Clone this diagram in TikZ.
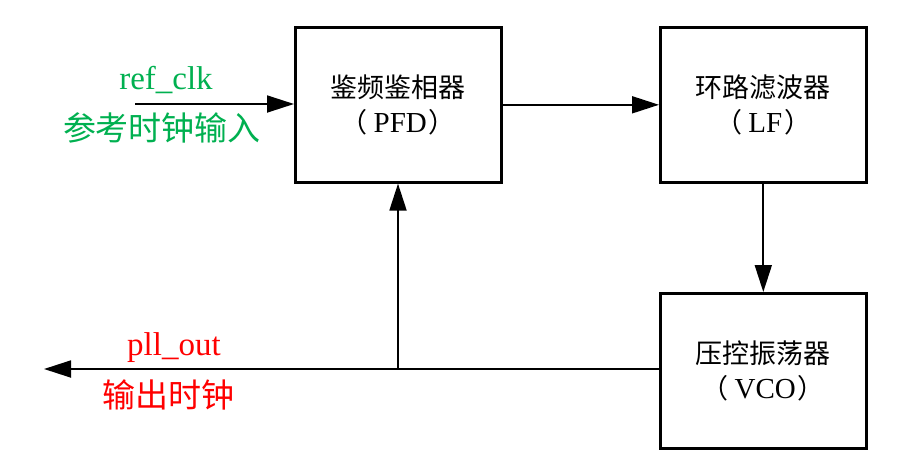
\documentclass[tikz,border=0pt]{standalone}
\usepackage{fontspec}
\setmainfont{Liberation Serif}
\newfontfamily\cjk{Noto Sans CJK SC}
\usetikzlibrary{arrows.meta}
\definecolor{lblgreen}{HTML}{00B050}
\definecolor{lblred}{HTML}{FF0000}
\newcommand{\fwparen}[1]{{\cjk （}\hspace{6pt}{\fontsize{29}{35}\selectfont #1}\hspace{2pt}{\cjk ）}}
\begin{document}
\begin{tikzpicture}[x=1pt,y=-1pt,
  blockbox/.style={draw=black,line width=2.6pt,minimum width=206pt,minimum height=155pt,anchor=north west,inner sep=0pt,align=center,font=\fontsize{27}{35}\selectfont},
  conn/.style={line width=1.8pt,-{Triangle[length=27pt,width=17pt]}},
  plain/.style={line width=1.8pt},
  lbl/.style={font=\fontsize{33}{38}\selectfont,inner sep=0pt}]
\useasboundingbox (0,0) rectangle (903,466);
\node[blockbox] (pfd) at (294,26) {{\cjk 鉴频鉴相器}\\\fwparen{PFD}};
\node[blockbox] (lf) at (659,26) {{\cjk 环路滤波器}\\\fwparen{LF}};
\node[blockbox] (vco) at (659,292) {{\cjk 压控振荡器}\\\fwparen{VCO}};
\coordinate (in) at (135,104);
\coordinate (out) at (44,369);
\coordinate (junc) at (398,369);
\draw[conn] (in) -- (in -| pfd.west);
\draw[conn] (pfd.east) -- (lf.west);
\draw[conn] (lf.south) -- (vco.north);
\draw[plain] (vco.west |- junc) -- (junc);
\draw[conn] (junc) -- (junc |- pfd.south);
\draw[conn] (junc) -- (out);
\node[lbl,text=lblgreen] (refclk) at (166,80) {ref\_clk};
\node[lbl,text=lblgreen] (refcn) at (162,128) {\cjk 参考时钟输入};
\node[lbl,text=lblred] (pllout) at (174,348) {pll\_out};
\node[lbl,text=lblred] (outcn) at (168,395) {\cjk 输出时钟};
\end{tikzpicture}
\end{document}
